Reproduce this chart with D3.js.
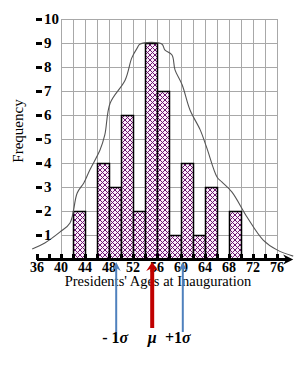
<!DOCTYPE html>
<html lang="en">
<head>
<meta charset="UTF-8">
<title>Presidents' Ages at Inauguration</title>
<style>
  body { margin: 0; padding: 0; background: #fff; }
  svg { display: block; }
  text { font-family: "Times New Roman", "Liberation Serif", "DejaVu Serif", serif; fill: #000; }
</style>
</head>
<body>
<div id="chart"></div>
<script src="https://d3js.org/d3.v7.min.js"></script>
<script>
// histogram bins (start age, 2-year width) and frequencies
const binStarts = [42, 44, 46, 48, 50, 52, 54, 56, 58, 60, 62, 64, 66, 68];
const freqs     = [2, 0, 4, 3, 6, 2, 9, 7, 1, 4, 1, 3, 0, 2];
const binWidth = 2;

// x tick labels and y tick labels
const xLabels = [36, 40, 44, 48, 52, 56, 60, 64, 68, 72, 76];
const yLabels = [1, 2, 3, 4, 5, 6, 7, 8, 9, 10];

// hand-drawn normal curve
const curveAge  = [35.2, 37.3, 39.8, 41.5, 42.7, 43.8, 44.8, 46.5, 47.3, 48.2, 50.7, 51.8, 52.7, 53.2, 56.8, 57.3, 58.5, 59.0, 60.2, 61.5, 63.2, 64.3, 66.0, 66.8, 68.5, 71.0, 73.7, 76.0, 78.7];
const curveFreq = [0.42, 0.67, 1.12, 1.5, 2.75, 3.17, 3.71, 4.54, 5.17, 6.5, 7.46, 8.38, 8.79, 8.96, 8.96, 8.71, 8.5, 7.88, 7.25, 6.21, 5.38, 4.63, 3.42, 3.21, 2.79, 1.75, 0.79, 0.38, 0.12];

// mean and standard deviation markers
const markerAges  = [49.2, 55.2, 60.3];
const markerNames = ['- 1', '\u03bc', '+1'];

const width = 303, height = 365;
const serif = '"Times New Roman", "Liberation Serif", "DejaVu Serif", serif';

const svg = d3.select('#chart').append('svg')
    .attr('width', width)
    .attr('height', height);

const x = d3.scaleLinear().domain([36, 78]).range([37, 289]);
const y = d3.scaleLinear().domain([0, 10]).range([259, 19]);

// crosshatch fill
const defs = svg.append('defs');
const pat = defs.append('pattern')
    .attr('id', 'hatch')
    .attr('patternUnits', 'userSpaceOnUse')
    .attr('width', 5)
    .attr('height', 5);
pat.append('rect').attr('width', 5).attr('height', 5).attr('fill', '#fbeefb');
pat.append('path').attr('d', 'M0,0 L5,5 M5,0 L0,5')
    .attr('stroke', '#6e1670').attr('stroke-width', 1);

// grid
const gridX = d3.range(40, 77, 2);
svg.append('g').selectAll('line')
    .data(gridX)
    .join('line')
    .attr('x1', d => x(d) + 0.5).attr('x2', d => x(d) + 0.5)
    .attr('y1', y(10)).attr('y2', y(0))
    .attr('stroke', '#a8a8a8').attr('stroke-width', 1);
svg.append('g').selectAll('line')
    .data(yLabels)
    .join('line')
    .attr('x1', x(40)).attr('x2', x(76) + 0.5)
    .attr('y1', d => y(d) + 0.5).attr('y2', d => y(d) + 0.5)
    .attr('stroke', '#a8a8a8').attr('stroke-width', 1);

// bars
svg.append('g').selectAll('rect')
    .data(binStarts.map((b, i) => ({ b, f: freqs[i] })).filter(d => d.f > 0))
    .join('rect')
    .attr('x', d => x(d.b) + 0.5)
    .attr('y', d => y(d.f) + 0.5)
    .attr('width', x(d3.min(binStarts) + binWidth) - x(d3.min(binStarts)))
    .attr('height', d => y(0) - y(d.f))
    .attr('fill', 'url(#hatch)')
    .attr('stroke', '#000')
    .attr('stroke-width', 1.5);

// curve
svg.append('path')
    .datum(curveAge.map((a, i) => [a, curveFreq[i]]))
    .attr('fill', 'none')
    .attr('stroke', '#555')
    .attr('stroke-width', 1.1)
    .attr('d', d3.line().curve(d3.curveCatmullRom).x(d => x(d[0])).y(d => y(d[1])));

// y ticks and labels
svg.append('g').selectAll('rect')
    .data(yLabels)
    .join('rect')
    .attr('x', 36).attr('y', d => y(d) - 1)
    .attr('width', 6).attr('height', 3)
    .attr('fill', '#000');
svg.append('g').selectAll('text')
    .data(yLabels)
    .join('text')
    .attr('font-family', serif)
    .attr('x', 44)
    .attr('y', d => y(d) + 5)
    .attr('font-size', 15)
    .attr('font-weight', 'bold')
    .text(d => d);

// x axis with arrow
svg.append('line')
    .attr('x1', x(36)).attr('x2', x(78.2))
    .attr('y1', y(0) + 0.5).attr('y2', y(0) + 0.5)
    .attr('stroke', '#000').attr('stroke-width', 3);
const tipX = x(78.7), ay = y(0) + 0.5;
svg.append('path')
    .attr('d', `M${tipX},${ay} L${tipX - 10},${ay - 5} L${tipX - 7},${ay} L${tipX - 10},${ay + 5} Z`)
    .attr('fill', '#000');
svg.append('g').selectAll('rect')
    .data(d3.range(36, 77, 2))
    .join('rect')
    .attr('x', d => x(d) - 1).attr('y', y(0) - 5)
    .attr('width', 3).attr('height', 6)
    .attr('fill', '#000');
svg.append('g').selectAll('text')
    .data(xLabels)
    .join('text')
    .attr('font-family', serif)
    .attr('x', d => x(d))
    .attr('y', 272)
    .attr('text-anchor', 'middle')
    .attr('font-size', 14)
    .attr('font-weight', 'bold')
    .text(d => d);

// axis titles
svg.append('text')
    .attr('font-family', serif)
    .attr('x', 158).attr('y', 286)
    .attr('text-anchor', 'middle')
    .attr('font-size', 14.5)
    .text("Presidents' Ages at Inauguration");
svg.append('text')
    .attr('font-family', serif)
    .attr('transform', 'translate(23,131) rotate(-90)')
    .attr('text-anchor', 'middle')
    .attr('font-size', 15)
    .text('Frequency');

// mean / sigma arrows
markerAges.forEach((a, i) => {
    const isMu = i === 1;
    const col = isMu ? '#c00000' : '#4f81bd';
    const w = isMu ? 4 : 2;
    const hw = isMu ? 6 : 4.5;
    const cx = x(a);
    const top = 262, bottom = isMu ? 328 : 332;
    svg.append('line')
        .attr('x1', cx).attr('x2', cx)
        .attr('y1', top + 6).attr('y2', bottom)
        .attr('stroke', col).attr('stroke-width', w);
    svg.append('path')
        .attr('d', `M${cx},${top} L${cx - hw},${top + 9} L${cx},${top + 6} L${cx + hw},${top + 9} Z`)
        .attr('fill', col);
    const t = svg.append('text')
        .attr('font-family', serif)
        .attr('x', cx + (i === 0 ? -1 : i === 2 ? -5 : 0))
        .attr('y', 343)
        .attr('text-anchor', 'middle')
        .attr('font-size', 16)
        .attr('font-weight', 'bold');
    if (isMu) {
        t.append('tspan').attr('font-style', 'italic').text(markerNames[i]);
    } else {
        t.append('tspan').text(markerNames[i]);
        t.append('tspan').attr('font-style', 'italic').text('\u03c3');
    }
});
</script>
</body>
</html>
